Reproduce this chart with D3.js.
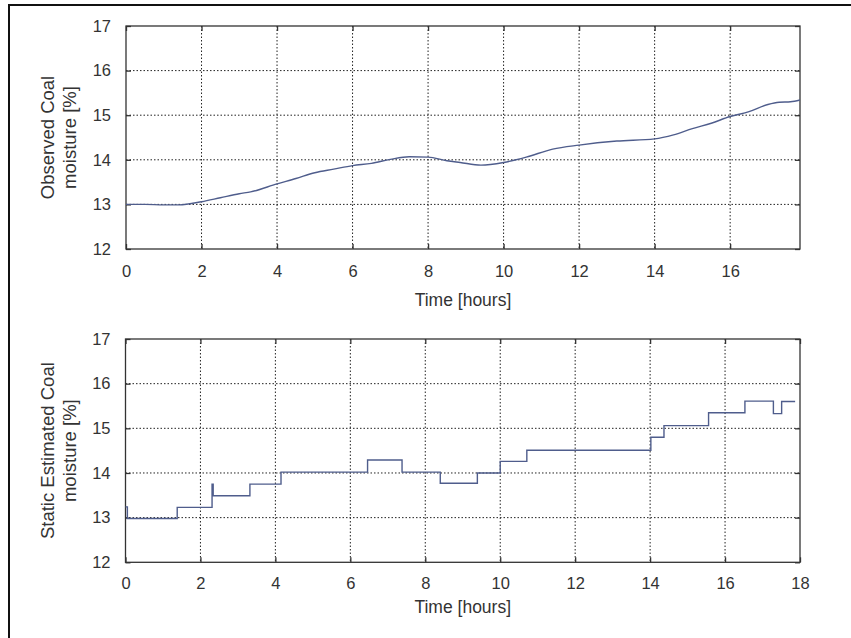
<!DOCTYPE html>
<html>
<head>
<meta charset="utf-8">
<script src="https://cdn.jsdelivr.net/npm/d3@7"></script>
<style>
html,body{margin:0;padding:0;background:#fff;}
svg{display:block;}
text{font-family:"Liberation Sans",Arial,sans-serif;fill:#333;}
</style>
</head>
<body>
<svg id="chart" width="851" height="638"></svg>
<script>
// ---- data ----
const obsTime  = [0, 0.5, 1, 1.4, 2, 2.5, 3, 3.3, 4, 4.5, 5, 5.5, 6, 6.5, 7, 7.5, 8, 8.5, 8.85, 9.4, 10, 10.6, 11.3, 12, 13, 14, 14.5, 15, 15.5, 16, 16.5, 17, 17.3, 17.6, 17.85];
const obsValue = [13.0, 13.0, 12.99, 12.99, 13.06, 13.15, 13.24, 13.28, 13.46, 13.58, 13.71, 13.79, 13.87, 13.92, 14.01, 14.07, 14.06, 13.98, 13.94, 13.88, 13.94, 14.06, 14.24, 14.33, 14.42, 14.47, 14.56, 14.7, 14.82, 14.97, 15.08, 15.24, 15.29, 15.3, 15.34];

const estTime  = [0, 0.05, 1.38, 2.31, 2.34, 3.32, 4.15, 6.46, 7.38, 8.4, 9.39, 10.0, 10.71, 14.02, 14.37, 15.56, 16.53, 17.29, 17.51, 17.87];
const estValue = [13.24, 12.98, 13.23, 13.75, 13.49, 13.75, 14.02, 14.29, 14.02, 13.77, 14.0, 14.26, 14.51, 14.8, 15.06, 15.35, 15.61, 15.33, 15.6, 15.6];

const yTicks = [12, 13, 14, 15, 16, 17];
const xTicksTop = [0, 2, 4, 6, 8, 10, 12, 14, 16];
const xTicksBottom = [0, 2, 4, 6, 8, 10, 12, 14, 16, 18];
const xLabel = "Time [hours]";
const yLabelTop = ["Observed Coal", "moisture [%]"];
const yLabelBottom = ["Static Estimated Coal", "moisture [%]"];

// ---- drawing ----
const svg = d3.select("#chart");
const lineColor = "#4f5d8c";
const axisColor = "#333";

// outer frame
svg.append("rect").attr("x", 9).attr("y", 5).attr("width", 900).attr("height", 700)
  .attr("fill", "none").attr("stroke", "#111").attr("stroke-width", 2);

function panel(cfg) {
  const x = d3.scaleLinear().domain(cfg.xDomain).range([cfg.left, cfg.right]);
  const y = d3.scaleLinear().domain([12, 17]).range([cfg.bottom, cfg.top]);
  const g = svg.append("g");

  // grid
  const gridX = cfg.xTicks.filter(t => t > cfg.xDomain[0] && t < cfg.xDomain[1]);
  const gridY = yTicks.filter(t => t > 12 && t < 17);
  g.selectAll(".gx").data(gridX).enter().append("line")
    .attr("x1", d => x(d)).attr("x2", d => x(d))
    .attr("y1", cfg.top).attr("y2", cfg.bottom)
    .attr("stroke", "#222").attr("stroke-width", 1).attr("stroke-dasharray", "1.5,2");
  g.selectAll(".gy").data(gridY).enter().append("line")
    .attr("x1", cfg.left).attr("x2", cfg.right)
    .attr("y1", d => y(d)).attr("y2", d => y(d))
    .attr("stroke", "#222").attr("stroke-width", 1).attr("stroke-dasharray", "1.5,2");

  // axes (ticks inward)
  const axB = d3.axisBottom(x).tickValues(cfg.xTicks).tickSize(-5).tickPadding(cfg.xPad).tickFormat(d3.format("d"));
  const axT = d3.axisTop(x).tickValues(cfg.xTicks).tickSize(-5).tickFormat("");
  const axL = d3.axisLeft(y).tickValues(yTicks).tickSize(-5).tickPadding(15).tickFormat(d3.format("d"));
  const axR = d3.axisRight(y).tickValues(yTicks).tickSize(-5).tickFormat("");

  const styleAxis = sel => {
    sel.select(".domain").remove();
    sel.selectAll(".tick line").attr("stroke", axisColor).attr("stroke-width", 1.3);
    sel.selectAll("text").attr("font-size", 16.5).attr("fill", "#333");
  };
  g.append("g").attr("transform", `translate(0,${cfg.bottom})`).call(axB).call(styleAxis);
  g.append("g").attr("transform", `translate(0,${cfg.top})`).call(axT).call(styleAxis);
  g.append("g").attr("transform", `translate(${cfg.left},0)`).call(axL).call(styleAxis);
  g.append("g").attr("transform", `translate(${cfg.right},0)`).call(axR).call(styleAxis);

  // box
  g.append("rect").attr("x", cfg.left).attr("y", cfg.top)
    .attr("width", cfg.right - cfg.left).attr("height", cfg.bottom - cfg.top)
    .attr("fill", "none").attr("stroke", axisColor).attr("stroke-width", 1.3);

  // line
  const pts = cfg.t.map((t, i) => [t, cfg.v[i]]);
  const line = d3.line().x(d => x(d[0])).y(d => y(d[1])).curve(cfg.curve);
  g.append("path").datum(pts).attr("d", line)
    .attr("fill", "none").attr("stroke", lineColor).attr("stroke-width", 1.4);

  // x label
  g.append("text").attr("x", (cfg.left + cfg.right) / 2).attr("y", cfg.bottom + cfg.xLabelOff)
    .attr("text-anchor", "middle").attr("font-size", 17.5).text(xLabel);

  // y label (two lines)
  const cy = (cfg.top + cfg.bottom) / 2;
  cfg.yLabel.forEach((s, i) => {
    g.append("text")
      .attr("transform", `translate(${54 + i * 22},${cy}) rotate(-90)`)
      .attr("text-anchor", "middle").attr("font-size", 18.5).text(s);
  });
}

panel({left: 126, right: 800, top: 26, bottom: 249, xDomain: [0, 17.85], xTicks: xTicksTop,
       t: obsTime, v: obsValue, curve: d3.curveMonotoneX, yLabel: yLabelTop, xLabelOff: 57, xPad: 16});
panel({left: 125.5, right: 800, top: 339, bottom: 562.3, xDomain: [0, 18], xTicks: xTicksBottom,
       t: estTime, v: estValue, curve: d3.curveStepAfter, yLabel: yLabelBottom, xLabelOff: 51, xPad: 15});
</script>
</body>
</html>
